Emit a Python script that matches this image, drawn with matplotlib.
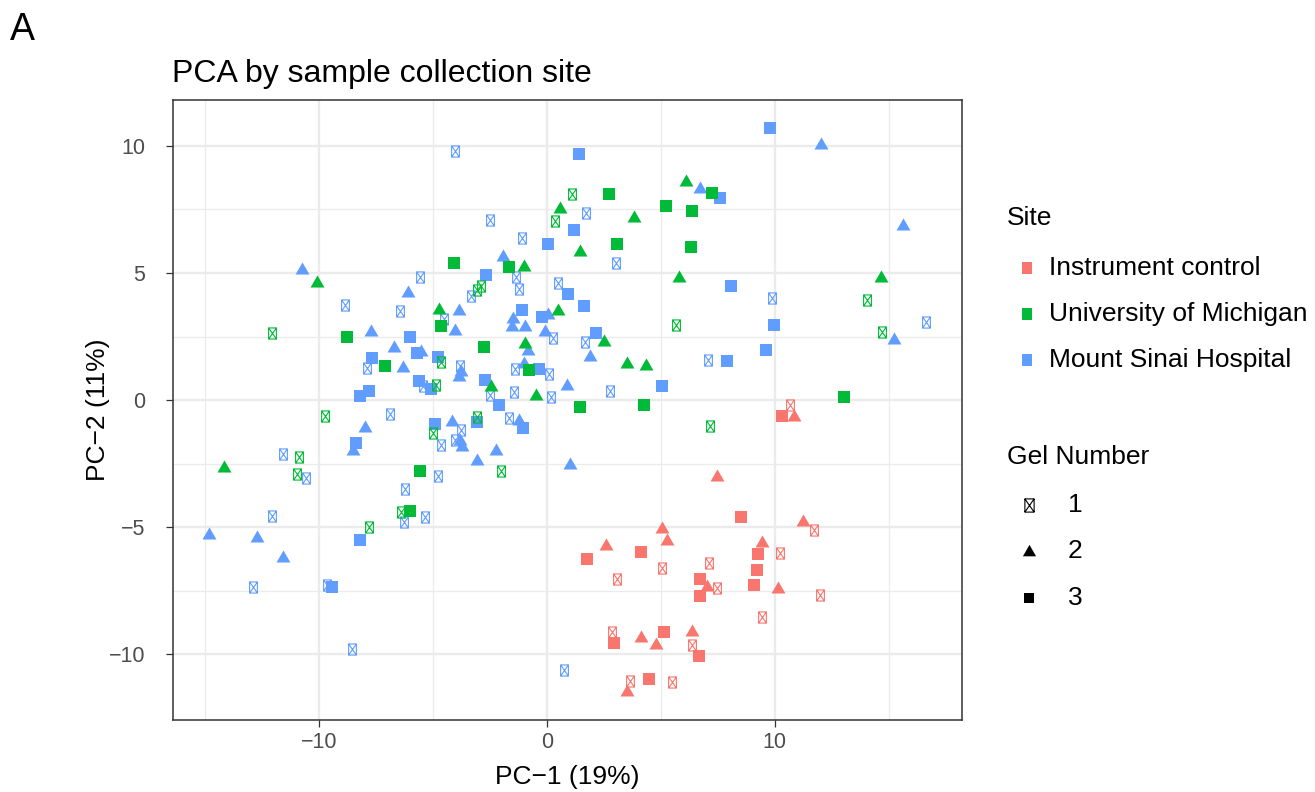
import numpy as np
import matplotlib
matplotlib.use("Agg")
import matplotlib.pyplot as plt
from matplotlib.path import Path

plt.rcParams["font.family"] = ["Liberation Sans", "DejaVu Sans"]

# ── Data ──────────────────────────────────────────────────────────────────────
sites = ["Instrument control", "University of Michigan", "Mount Sinai Hospital"]
site_colors = ["#F8766D", "#00BA38", "#619CFF"]
gels = ["1", "2", "3"]

# Instrument control
ic_gel1 = [(10.69, -0.18), (11.72, -5.12), (10.25, -6.00), (7.13, -6.43), (7.47, -7.40),
           (11.97, -7.68), (9.43, -8.52), (5.06, -6.61), (3.06, -7.06), (2.85, -9.12),
           (6.39, -9.63), (3.67, -11.05), (5.51, -11.08)]
ic_gel2 = [(10.86, -0.68), (7.47, -3.02), (11.23, -4.80), (9.46, -5.63), (10.13, -7.44),
           (7.02, -7.37), (5.07, -5.08), (5.26, -5.54), (2.62, -5.76), (4.12, -9.38),
           (4.81, -9.65), (6.35, -9.11), (3.54, -11.48)]
ic_gel3 = [(10.31, -0.64), (8.51, -4.62), (9.28, -6.06), (9.21, -6.68), (9.08, -7.26),
           (4.14, -5.96), (1.77, -6.27), (6.74, -7.06), (6.70, -7.70), (2.95, -9.54),
           (5.16, -9.11), (6.67, -10.07), (4.49, -10.98)]

# University of Michigan
um_gel1 = [(1.11, 8.11), (0.34, 7.03), (-2.88, 4.50), (-3.04, 4.33), (14.04, 3.94),
           (14.72, 2.69), (5.66, 2.95), (-12.05, 2.64), (-4.62, 1.51), (-4.85, 0.59),
           (-9.74, -0.62), (-3.04, -0.68), (-4.97, -1.30), (7.18, -1.01), (-10.85, -2.23),
           (-10.95, -2.90), (-2.02, -2.78), (-6.39, -4.42), (-7.81, -5.01)]
um_gel2 = [(-10.06, 4.59), (-4.74, 3.56), (6.11, 8.60), (0.57, 7.52), (3.82, 7.15),
           (1.45, 5.81), (-0.98, 5.22), (5.79, 4.80), (0.48, 3.52), (14.68, 4.79),
           (2.49, 2.27), (-0.95, 2.20), (3.51, 1.42), (4.36, 1.33), (-2.46, 0.50),
           (-0.48, 0.15), (-14.14, -2.69)]
um_gel3 = [(7.24, 8.14), (2.73, 8.10), (5.23, 7.62), (6.39, 7.44), (3.10, 6.13),
           (6.33, 6.02), (-4.07, 5.39), (-1.64, 5.22), (-8.76, 2.47), (-4.62, 2.93),
           (-2.75, 2.07), (-7.09, 1.33), (-0.76, 1.19), (13.03, 0.11), (1.45, -0.29),
           (4.27, -0.18), (-5.57, -2.78), (-5.99, -4.37)]

# Mount Sinai Hospital
ms_gel1 = [(-5.54, 4.83), (-8.86, 3.75), (-6.43, 3.49), (-4.02, 9.81), (1.71, 7.36),
           (-2.50, 7.10), (-1.07, 6.39), (3.04, 5.39), (-1.37, 4.85), (-3.33, 4.11),
           (-1.20, 4.37), (0.51, 4.62), (9.88, 4.02), (16.64, 3.06), (7.07, 1.59),
           (-4.50, 3.20), (0.28, 2.43), (1.68, 2.27), (-7.88, 1.27), (-5.41, 0.56),
           (-3.82, 1.33), (-1.39, 1.22), (0.09, 1.01), (-2.51, 0.20), (-1.42, 0.30),
           (0.19, 0.11), (2.79, 0.37), (-6.87, -0.56), (-1.64, -0.72), (-3.76, -1.17),
           (-4.02, -1.56), (-4.66, -1.76), (-11.58, -2.11), (-10.54, -3.06), (-4.77, -2.98),
           (-6.23, -3.50), (-5.32, -4.59), (-6.27, -4.80), (-12.05, -4.58), (-12.89, -7.37),
           (-9.65, -7.26), (-8.55, -9.80), (0.76, -10.62)]
ms_gel2 = [(-10.73, 5.13), (-6.08, 4.20), (12.02, 10.04), (6.73, 8.31), (15.61, 6.86),
           (-1.90, 5.62), (-3.87, 3.49), (-7.69, 2.69), (-6.70, 2.05), (-5.53, 1.90),
           (-6.30, 1.25), (-4.02, 2.73), (-1.46, 3.19), (-1.54, 2.86), (-0.95, 2.86),
           (0.04, 3.35), (-0.07, 2.69), (-0.83, 1.94), (1.90, 1.71), (15.21, 2.36),
           (-3.76, 1.11), (-3.85, 0.89), (-0.98, 1.42), (0.89, 0.54), (-7.95, -1.08),
           (-8.52, -2.00), (-1.20, -0.81), (-4.17, -0.88), (-3.80, -1.60), (-3.70, -1.86),
           (-2.24, -2.00), (-3.07, -2.39), (1.02, -2.56), (-14.82, -5.30), (-12.73, -5.41),
           (-11.59, -6.23)]
ms_gel3 = [(1.43, 9.69), (9.77, 10.70), (7.60, 7.94), (1.21, 6.69), (0.07, 6.14),
           (-2.66, 4.93), (0.92, 4.17), (1.64, 3.71), (-1.10, 3.54), (-0.22, 3.26),
           (2.14, 2.63), (8.10, 4.49), (9.97, 2.95), (9.63, 1.98), (7.89, 1.52),
           (5.07, 0.56), (-5.98, 2.47), (-5.70, 1.84), (-4.77, 1.68), (-7.66, 1.64),
           (-5.60, 0.74), (-5.06, 0.43), (-7.81, 0.35), (-8.19, 0.15), (-2.69, 0.80),
           (-0.35, 1.22), (-2.09, -0.21), (-3.04, -0.88), (-1.02, -1.10), (-4.90, -0.93),
           (-8.35, -1.69), (-8.19, -5.51), (-9.42, -7.36)]

site_data = {
    "Instrument control": [ic_gel1, ic_gel2, ic_gel3],
    "University of Michigan": [um_gel1, um_gel2, um_gel3],
    "Mount Sinai Hospital": [ms_gel1, ms_gel2, ms_gel3],
}

# ── Markers: "missing glyph" box, equilateral triangle, square ────────────────
xbox = Path(
    [(-0.35, -0.5), (0.35, -0.5), (0.35, 0.5), (-0.35, 0.5), (-0.35, -0.5),
     (-0.35, -0.5), (0.35, 0.5), (0.35, -0.5), (-0.35, 0.5)],
    [Path.MOVETO, Path.LINETO, Path.LINETO, Path.LINETO, Path.CLOSEPOLY,
     Path.MOVETO, Path.LINETO, Path.MOVETO, Path.LINETO],
)
tri = Path([(-1, -0.577), (1, -0.577), (0, 1.155), (-1, -0.577)],
           [Path.MOVETO, Path.LINETO, Path.LINETO, Path.CLOSEPOLY])
tofu = Path([(-0.4, -0.5), (0.4, -0.5), (0.4, 0.5), (-0.4, 0.5), (-0.4, -0.5)],
            [Path.MOVETO, Path.LINETO, Path.LINETO, Path.LINETO, Path.CLOSEPOLY])

gel_style = [
    dict(marker=xbox, ms=8.0, mfc="none", mew=0.8),
    dict(marker=tri, ms=11.6, mew=0),
    dict(marker="s", ms=8.8, mew=0),
]
key_sizes = [9.5, 11.0, 7.3]

# ── Plot ──────────────────────────────────────────────────────────────────────
fig = plt.figure(figsize=(13.15, 7.92), dpi=100)
ax = fig.add_axes([173 / 1315, 1 - 720 / 792, 789 / 1315, 620 / 792])

draw_order = ["Mount Sinai Hospital", "University of Michigan", "Instrument control"]
for site in draw_order:
    col = site_colors[sites.index(site)]
    for g, pts in enumerate(site_data[site]):
        xs = [p[0] for p in pts]
        ys = [p[1] for p in pts]
        st = gel_style[g]
        ax.plot(xs, ys, marker=st["marker"], markersize=st["ms"],
                markeredgewidth=st["mew"], linestyle="none", markeredgecolor=col,
                markerfacecolor=st.get("mfc", col), zorder=3)

# ggplot-like 5% expansion of the data range
all_x = [p[0] for s in site_data.values() for grp in s for p in grp]
all_y = [p[1] for s in site_data.values() for grp in s for p in grp]
dx = (max(all_x) - min(all_x)) * 0.05
dy = (max(all_y) - min(all_y)) * 0.05
ax.set_xlim(min(all_x) - dx, max(all_x) + dx)
ax.set_ylim(min(all_y) - dy, max(all_y) + dy)

ax.set_xticks([-10, 0, 10])
ax.set_yticks([-10, -5, 0, 5, 10])
ax.set_xticks([-15, -5, 5, 15], minor=True)
ax.set_yticks([-7.5, -2.5, 2.5, 7.5], minor=True)
ax.grid(which="major", color="#EBEBEB", lw=1.7, zorder=0)
ax.grid(which="minor", color="#EBEBEB", lw=0.9, zorder=0)
ax.set_axisbelow(True)
ax.tick_params(which="major", length=5, width=0.9, color="#333333",
               labelsize=15.5, labelcolor="#4D4D4D")
ax.tick_params(axis="x", pad=4)
ax.tick_params(axis="y", pad=15)
ax.tick_params(which="minor", length=0)
for sp in ax.spines.values():
    sp.set_color("#333333")
    sp.set_linewidth(1.1)

ax.set_xlabel("PC\u22121 (19%)", fontsize=19)
ax.set_ylabel("PC\u22122 (11%)", fontsize=19)
ax.xaxis.set_label_coords(0.5, (720 - 765) / 620)
ax.yaxis.set_label_coords((110 - 173) / 789, 0.5)

fig.text(172 / 1315, 1 - 82 / 792, "PCA by sample collection site",
         fontsize=23, va="baseline", ha="left")
fig.text(10 / 1315, 1 - 40 / 792, "A", fontsize=27, va="baseline", ha="left")

# ── Legends drawn in pixel space ──────────────────────────────────────────────
lg = fig.add_axes([0, 0, 1, 1], facecolor="none")
lg.set_xlim(0, 1315)
lg.set_ylim(792, 0)
lg.axis("off")

lg.text(1007, 218, "Site", fontsize=19, va="center", ha="left")
for i, (site, col) in enumerate(zip(sites, site_colors)):
    yy = 268 + i * 46
    lg.plot([1027], [yy], marker=tofu, ms=9, mfc=col, mec=col, mew=0, ls="none")
    lg.text(1049, yy, site, fontsize=19, va="center", ha="left")

lg.text(1007, 457, "Gel Number", fontsize=19, va="center", ha="left")
for i, g in enumerate(gels):
    yy = 505 + i * 46.5
    st = gel_style[i]
    lg.plot([1029], [yy], marker=st["marker"], markersize=key_sizes[i],
            markeredgewidth=st["mew"], ls="none", mec="black",
            mfc=st.get("mfc", "black"))
    lg.text(1068, yy, g, fontsize=19, va="center", ha="left")

fig.savefig("out.png", dpi=100)
